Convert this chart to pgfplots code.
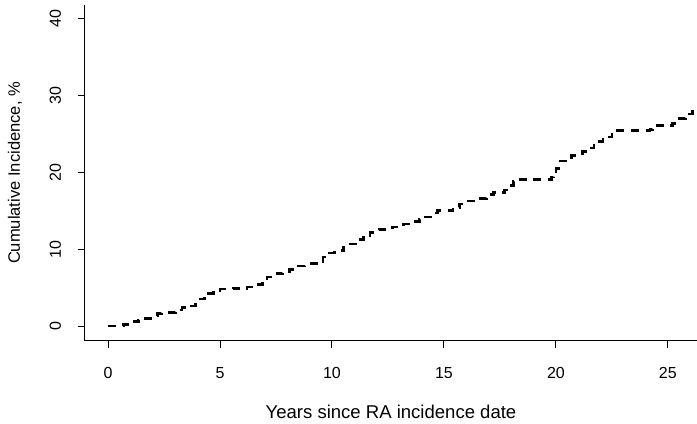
\documentclass[border=0pt]{standalone}
\usepackage{pgfplots}
\pgfplotsset{compat=1.18}
\usepackage{fontspec}
\setmainfont{Liberation Sans}

% step data (years, cumulative %)
\pgfplotstableread{
x y
0.0 0.0
0.7 0.2
1.1 0.6
1.35 0.8
1.6 1.0
1.9 1.3
2.2 1.6
2.4 1.8
3.0 2.1
3.3 2.4
3.7 2.6
3.9 3.1
4.1 3.5
4.3 3.8
4.5 4.2
4.7 4.6
5.0 4.8
5.6 4.9
6.2 5.1
6.6 5.4
6.9 5.8
7.1 6.4
7.4 6.8
7.8 7.1
8.1 7.4
8.4 7.8
8.8 8.1
9.3 8.4
9.6 9.0
9.9 9.5
10.1 9.8
10.5 10.3
10.8 10.7
11.1 11.3
11.4 11.8
11.7 12.2
12.1 12.6
12.7 12.9
13.2 13.3
13.5 13.6
13.9 13.9
14.1 14.2
14.5 14.7
14.7 15.0
15.4 15.4
15.7 15.9
15.9 16.3
16.5 16.6
16.9 17.1
17.2 17.4
17.7 17.7
17.9 18.3
18.1 18.8
18.4 19.1
19.8 19.4
19.9 19.8
20.0 20.5
20.2 21.5
20.7 22.2
21.2 22.7
21.5 23.2
21.7 24.0
22.1 24.6
22.5 25.2
22.6 25.5
24.2 25.6
24.3 26.1
25.2 26.4
25.5 27.0
25.8 27.6
26.1 28.1
26.4 28.1
}\cidata

\begin{document}
\begin{tikzpicture}
\useasboundingbox (0pt,0pt) rectangle (522.75pt,318pt);
\begin{axis}[
  at={(63.75pt,62.25pt)}, anchor=south west,
  scale only axis, width=459pt, height=252pt,
  xmin=-1.03, xmax=26.3, ymin=-1.95, ymax=41.8,
  axis x line*=bottom, axis y line*=left,
  axis line style={-, line width=0.75pt},
  tick style={line width=0.75pt, black},
  tick align=outside, major tick length=5.25pt,
  xtick={0,5,...,25}, ytick={0,10,...,40},
  font=\fontsize{12}{14}\selectfont,
  /pgf/number format/assume math mode=true,
  xticklabel style={anchor=north, inner sep=0pt, yshift=-14.25pt},
  yticklabel style={rotate=90, anchor=base, inner sep=0pt, yshift=12.75pt},
  xlabel={Years since RA incidence date},
  ylabel={Cumulative Incidence, \%},
  xlabel style={at={(rel axis cs:0.5,0)}, anchor=center, yshift=-53.25pt,
    font=\fontsize{13.9}{16}\selectfont},
  ylabel style={at={(rel axis cs:0,0.5)}, anchor=center, yshift=52.5pt,
    font=\fontsize{12.4}{15}\selectfont},
]
\addplot[const plot, black, line width=2pt, dash pattern=on 6pt off 5pt]
  table[x=x,y=y] {\cidata};
\end{axis}
\end{tikzpicture}
\end{document}
